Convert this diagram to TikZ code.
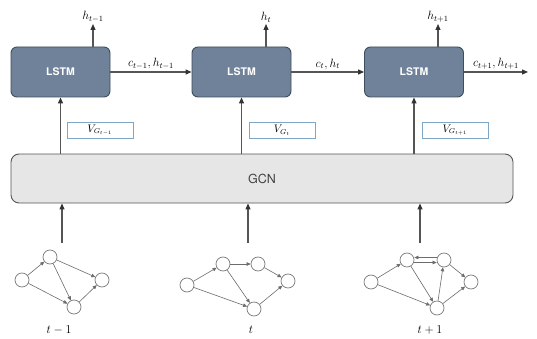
\documentclass[tikz,border=0pt]{standalone}
\usepackage{fontspec}
\newfontfamily\hv{TeX Gyre Heros}
\usetikzlibrary{arrows.meta}
\definecolor{lstmfill}{HTML}{6F8299}
\definecolor{lstmdraw}{HTML}{3F4D5C}
\definecolor{gcnfill}{HTML}{E6E6E6}
\definecolor{linec}{HTML}{555555}
\definecolor{tipc}{HTML}{333333}
\definecolor{vdraw}{HTML}{7FA6C4}
\definecolor{gnode}{HTML}{7A7A7A}
\tikzset{
  lstm/.style={draw=lstmdraw, line width=0.9pt, fill=lstmfill, rounded corners=6pt,
    minimum width=99pt, minimum height=50pt, text=white, font=\hv\fontsize{10.5}{12}\selectfont\bfseries},
  gcn/.style={draw=linec, line width=0.9pt, fill=gcnfill, rounded corners=8pt,
    minimum width=502pt, minimum height=49pt, text=black!75, font=\hv\fontsize{12.5}{14}\selectfont},
  vbox/.style={draw=vdraw, line width=0.8pt, fill=white, minimum width=66pt, minimum height=16pt, inner sep=0pt,
    font=\fontsize{10.5}{12}\selectfont},
  conn/.style={draw=linec, line width=1.2pt, -{Triangle[length=6pt,width=5pt,color=tipc]}},
  gedge/.style={draw=gray!85!black, line width=0.6pt, -{Triangle[length=4pt,width=3.5pt]}},
  gn/.style={circle, draw=gnode, line width=0.7pt, fill=white, minimum size=14pt, inner sep=0pt},
  hlab/.style={anchor=south, inner sep=1.5pt, font=\fontsize{12}{14}\selectfont},
  clab/.style={above, inner sep=2pt, font=\fontsize{12}{14}\selectfont},
  tlab/.style={font=\fontsize{13}{15}\selectfont},
}
\begin{document}
\begin{tikzpicture}[x=1pt,y=-1pt]
\useasboundingbox (0,0) rectangle (537,339);
\fill[white] (0,0) rectangle (537,339);

% LSTM boxes
\node[lstm] (L1) at (60.5,72) {LSTM};
\node[lstm] (L2) at (241.5,72) {LSTM};
\node[lstm] (L3) at (414,72) {LSTM};

% GCN
\node[gcn] (G) at (262,178.5) {GCN};

% h outputs
\node[hlab] (h1) at (93,24) {$h_{t-1}$};
\node[hlab] (h2) at (266,24) {$h_{t}$};
\node[hlab] (h3) at (438,24) {$h_{t+1}$};
\draw[conn] (L1.north -| h1.south) -- (h1.south);
\draw[conn] (L2.north -| h2.south) -- (h2.south);
\draw[conn] (L3.north -| h3.south) -- (h3.south);

% horizontal recurrences
\coordinate (end) at (528,72);
\draw[conn] (L1.east) -- node[clab] {$c_{t-1}, h_{t-1}$} (L2.west);
\draw[conn] (L2.east) -- node[clab] {$c_{t}, h_{t}$} (L3.west);
\draw[conn] (L3.east) -- node[clab] {$c_{t+1}, h_{t+1}$} (end);

% GCN to LSTM
\draw[conn] (L1.south |- G.north) -- (L1.south);
\draw[conn] (L2.south |- G.north) -- (L2.south);
\draw[conn] (L3.south |- G.north) -- (L3.south);

% V labels
\node[vbox] (V1) at (100,130) {$V_{G_{t-1}}$};
\node[vbox] (V2) at (282,130) {$V_{G_{t}}$};
\node[vbox] (V3) at (455,130) {$V_{G_{t+1}}$};

% graph inputs to GCN
\coordinate (g1) at (62,243);
\coordinate (g2) at (248,243);
\coordinate (g3) at (420,243);
\draw[conn] (g1) -- (g1 |- G.south);
\draw[conn] (g2) -- (g2 |- G.south);
\draw[conn] (g3) -- (g3 |- G.south);

% graph 1
\node[gn] (a1) at (22,280) {};
\node[gn] (b1) at (50,257) {};
\node[gn] (c1) at (102,280) {};
\node[gn] (d1) at (74,307) {};
\draw[gedge] (a1) -- (b1);
\draw[gedge] (a1) -- (d1);
\draw[gedge] (b1) -- (d1);
\draw[gedge] (b1) -- (c1);
\draw[gedge] (d1) -- (c1);
\node[tlab] (t1) at (59,330) {$t-1$};

% graph 2
\node[gn] (a2) at (187,285) {};
\node[gn] (b2) at (223,264) {};
\node[gn] (c2) at (258,264) {};
\node[gn] (d2) at (288,281) {};
\node[gn] (e2) at (254,309) {};
\draw[gedge] (a2) -- (b2);
\draw[gedge] (a2) -- (e2);
\draw[gedge] (b2) -- (c2);
\draw[gedge] (b2) -- (e2);
\draw[gedge] (c2) -- (d2);
\draw[gedge] (e2) -- (d2);
\node[tlab] (t2) at (251,330) {$t$};

% graph 3
\node[gn] (a3) at (371,282) {};
\node[gn] (b3) at (407,260) {};
\node[gn] (c3) at (444,260) {};
\node[gn] (d3) at (471,282) {};
\node[gn] (e3) at (437,308) {};
\draw[gedge] (a3) -- (b3);
\draw[gedge] (a3) -- (e3);
\draw[gedge] ([yshift=2.5pt]c3.west) -- ([yshift=2.5pt]b3.east);
\draw[gedge] ([yshift=-2.5pt]b3.east) -- ([yshift=-2.5pt]c3.west);
\draw[gedge] (b3) -- (e3);
\draw[gedge] (e3) -- (c3);
\draw[gedge] (c3) -- (d3);
\draw[gedge] (e3) -- (d3);
\node[tlab] (t3) at (430,330) {$t+1$};
\end{tikzpicture}
\end{document}
